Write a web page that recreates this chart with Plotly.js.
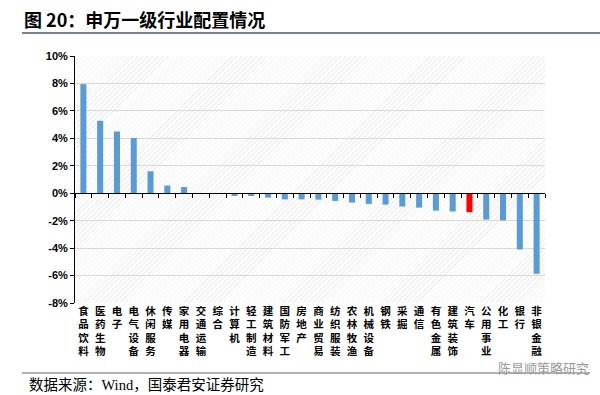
<!DOCTYPE html>
<html>
<head>
<meta charset="utf-8">
<script src="https://cdn.plot.ly/plotly-3.0.1.min.js"></script>
<style>
html,body{margin:0;padding:0;background:#fff;}
#wrap{position:relative;width:600px;height:395px;overflow:hidden;}
#hatch{position:absolute;background:repeating-linear-gradient(135deg,#ffffff 0px,#ffffff 2.5px,#efefef 2.5px,#efefef 3.5px);}
#chart{position:absolute;left:0;top:0;width:600px;height:395px;}
</style>
</head>
<body>
<div id="wrap"><div id="hatch"></div><div id="chart"></div></div>
<script>
const categories = ['食品饮料','医药生物','电子','电气设备','休闲服务','传媒','家用电器','交通运输','综合','计算机','轻工制造','建筑材料','国防军工','房地产','商业贸易','纺织服装','农林牧渔','机械设备','钢铁','采掘','通信','有色金属','建筑装饰','汽车','公用事业','化工','银行','非银金融'];
const values = [7.95,5.28,4.5,4.02,1.6,0.56,0.45,-0.01,-0.02,-0.2,-0.2,-0.32,-0.45,-0.45,-0.47,-0.56,-0.68,-0.78,-0.83,-0.97,-1.05,-1.27,-1.33,-1.38,-1.92,-1.98,-4.1,-5.87];
const highlight = '汽车';
const yTicks = [-8,-6,-4,-2,0,2,4,6,8,10];
const titleText = '图 20：申万一级行业配置情况';
const sourceText = '数据来源：Wind，国泰君安证券研究';
const watermarkText = '陈显顺策略研究';

const M = {l:75, r:55, t:56, b:92};
const W = 600, H = 395;
const PW = W - M.l - M.r, PH = H - M.t - M.b;
const yRange = [-8, 10];
const h = document.getElementById('hatch');
h.style.left = M.l + 'px'; h.style.top = M.t + 'px';
h.style.width = PW + 'px'; h.style.height = PH + 'px';

const colors = categories.map(c => c === highlight ? '#ff0000' : '#5b9bd5');
const tickText = categories.map(c => Array.from(c).join('<br>'));
const boundaries = categories.map((c, i) => i - 0.5).concat([categories.length - 0.5]);

const traces = [
  {type:'bar', x:categories, y:values, marker:{color:'rgba(0,0,0,0)'}, width:0.36, xaxis:'x2', yaxis:'y', hoverinfo:'skip'},
  {type:'bar', x:categories, y:values, marker:{color:colors}, width:0.36, xaxis:'x', yaxis:'y', hoverinfo:'x+y'}
];

const zeroPos = (0 - yRange[0]) / (yRange[1] - yRange[0]);
const px = v => (v - M.l) / PW;
const py = v => (H - M.b - v) / PH;

const layout = {
  width:W, height:H,
  margin:M,
  paper_bgcolor:'rgba(0,0,0,0)',
  plot_bgcolor:'rgba(0,0,0,0)',
  showlegend:false,
  bargap:0.6,
  font:{family:'"Noto Sans CJK SC", Arial, sans-serif', color:'#000'},
  xaxis:{
    type:'category', categoryorder:'array', categoryarray:categories,
    range:[-0.5, categories.length - 0.5],
    tickmode:'array', tickvals:categories, ticktext:tickText,
    ticks:'', showline:false, showgrid:false, zeroline:false,
    tickfont:{family:'"Noto Sans CJK SC", sans-serif', size:10.5, color:'#000', weight:'bold'}
  },
  xaxis2:{
    type:'linear', overlaying:'x', anchor:'free', position:zeroPos,
    range:[-0.5, categories.length - 0.5],
    tickmode:'array', tickvals:boundaries,
    showticklabels:false, ticks:'outside', ticklen:4, tickwidth:1, tickcolor:'#000',
    showline:true, linecolor:'#000', linewidth:1.2, showgrid:false, zeroline:false
  },
  yaxis:{
    range:yRange, tickmode:'array', tickvals:yTicks, ticktext:yTicks.map(v => v + '%'),
    ticks:'outside', ticklen:4, tickcolor:'#000', showline:true, linecolor:'#000', linewidth:1,
    showgrid:true, gridcolor:'#d9d9d9', gridwidth:1, zeroline:false,
    tickfont:{family:'Arial, "Liberation Sans", sans-serif', size:11, color:'#000', weight:'bold'}
  },
  annotations:[
    {text:titleText, xref:'paper', yref:'paper', x:px(22), y:py(19), xanchor:'left', yanchor:'middle', showarrow:false,
     font:{family:'"Noto Sans CJK SC", sans-serif', size:18, color:'#000', weight:'bold'}},
    {text:sourceText, xref:'paper', yref:'paper', x:px(27), y:py(385), xanchor:'left', yanchor:'middle', showarrow:false,
     font:{family:'"Liberation Serif", "Noto Sans CJK SC", serif', size:14.5, color:'#000'}},
    {text:watermarkText, xref:'paper', yref:'paper', x:px(591), y:py(367), xanchor:'right', yanchor:'middle', showarrow:false,
     font:{family:'"Noto Sans CJK SC", sans-serif', size:13, color:'#9a9a9a'}}
  ],
  shapes:[
    {type:'line', xref:'paper', yref:'paper', x0:px(22), x1:px(600), y0:py(33), y1:py(33), line:{color:'#4a5a6a', width:1.5}},
    {type:'line', xref:'paper', yref:'paper', x0:px(22), x1:px(590), y0:py(373), y1:py(373), line:{color:'#666', width:1.2}}
  ]
};

Plotly.newPlot('chart', traces, layout, {staticPlot:true, displayModeBar:false});
</script>
</body>
</html>
